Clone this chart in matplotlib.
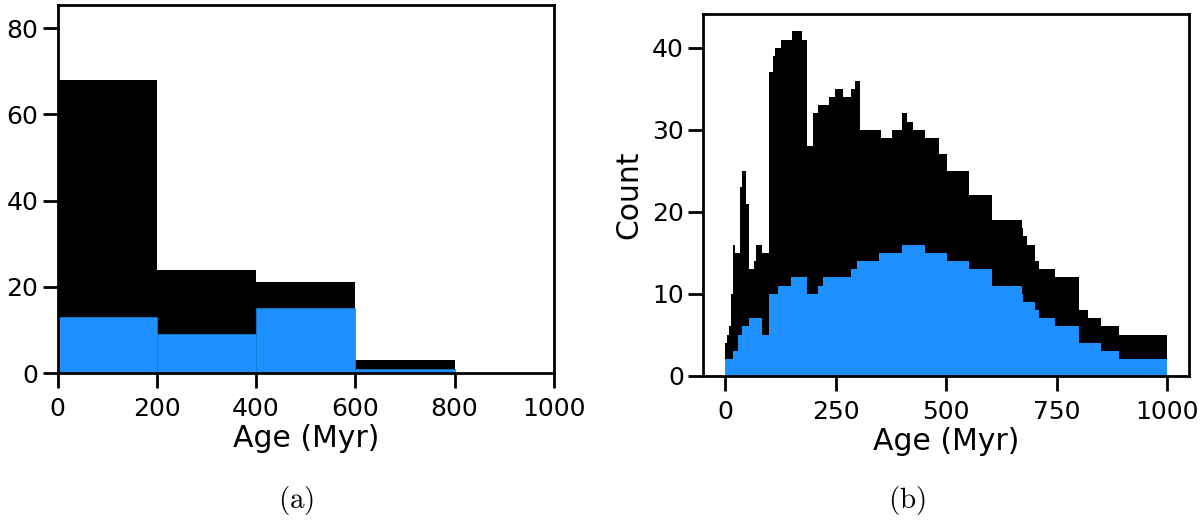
import numpy as np
import matplotlib
import matplotlib.pyplot as plt

matplotlib.use("Agg")

# (a) coarse histogram, 200 Myr bins
edges_a = [0, 200, 400, 600, 800, 1000]
all_a = [68, 24, 21, 3, 0]
sub_a = [13, 9, 15, 1, 0]

# (b) fine step histogram
edges_all_b = [0, 3, 8, 13, 18, 23, 34, 38, 48, 53, 64, 70, 83, 100, 108, 113,
               125, 150, 174, 184, 199, 210, 234, 248, 266, 285, 293, 304, 353,
               378, 399, 412, 425, 453, 483, 502, 552, 603, 671, 674, 682, 701,
               709, 746, 800, 820, 850, 892, 1000]
all_b = [4, 5, 6, 10, 16, 15, 23, 25, 21, 13, 14, 16, 15, 37, 39, 40, 41, 42,
         41, 28, 32, 33, 34, 35, 34, 35, 36, 30, 29, 30, 32, 31, 30, 29, 27, 25,
         22, 19, 18, 17, 16, 14, 13, 12, 8, 7, 6, 5]
edges_sub_b = [0, 18, 29, 38, 53, 84, 99, 119, 148, 184, 210, 221, 285, 298,
               348, 399, 453, 502, 552, 603, 671, 674, 701, 709, 746, 800, 850,
               892, 1000]
sub_b = [2, 3, 5, 6, 7, 5, 10, 11, 12, 10, 11, 12, 13, 14, 15, 16, 15, 14, 13,
         11, 10, 9, 8, 7, 6, 4, 3, 2]

BLUE = "#1e90ff"

plt.rcParams["mathtext.fontset"] = "cm"
plt.rcParams["axes.linewidth"] = 2.0

fig = plt.figure(figsize=(12, 5.21), dpi=100)
ax1 = fig.add_axes([0.048, 0.284, 0.4135, 0.706])
ax2 = fig.add_axes([0.586, 0.279, 0.405, 0.6936])

# left panel
w = np.diff(edges_a)
ax1.bar(edges_a[:-1], all_a, width=w, align="edge", color="black", linewidth=0)
ax1.bar(edges_a[:-1], sub_a, width=w, align="edge", color=BLUE,
        edgecolor="#1a7fe0", linewidth=0.5)
ax1.set_xlim(0, 1000)
ax1.set_ylim(0, 85.3)
ax1.set_xticks([0, 200, 400, 600, 800, 1000])
ax1.set_yticks([0, 20, 40, 60, 80])

# right panel
ax2.stairs(all_b, edges_all_b, fill=True, color="black", linewidth=0)
ax2.stairs(sub_b, edges_sub_b, fill=True, color=BLUE, linewidth=0)
ax2.set_xlim(-50, 1050)
ax2.set_ylim(0, 44.1)
ax2.set_xticks([0, 250, 500, 750, 1000])
ax2.set_yticks([0, 10, 20, 30, 40])
ax2.set_ylabel("Count", fontsize=21.5, labelpad=6)

for ax in (ax1, ax2):
    ax.set_xlabel("Age (Myr)", fontsize=21.5, labelpad=2)
    ax.tick_params(labelsize=18, length=10.5, width=2, pad=3.5)
    ax.tick_params(axis="x", pad=7)

fig.text(0.247, 0.04, r"$\mathrm{(a)}$", ha="center", va="center", fontsize=21)
fig.text(0.756, 0.04, r"$\mathrm{(b)}$", ha="center", va="center", fontsize=21)

fig.savefig("out.png", dpi=100)
